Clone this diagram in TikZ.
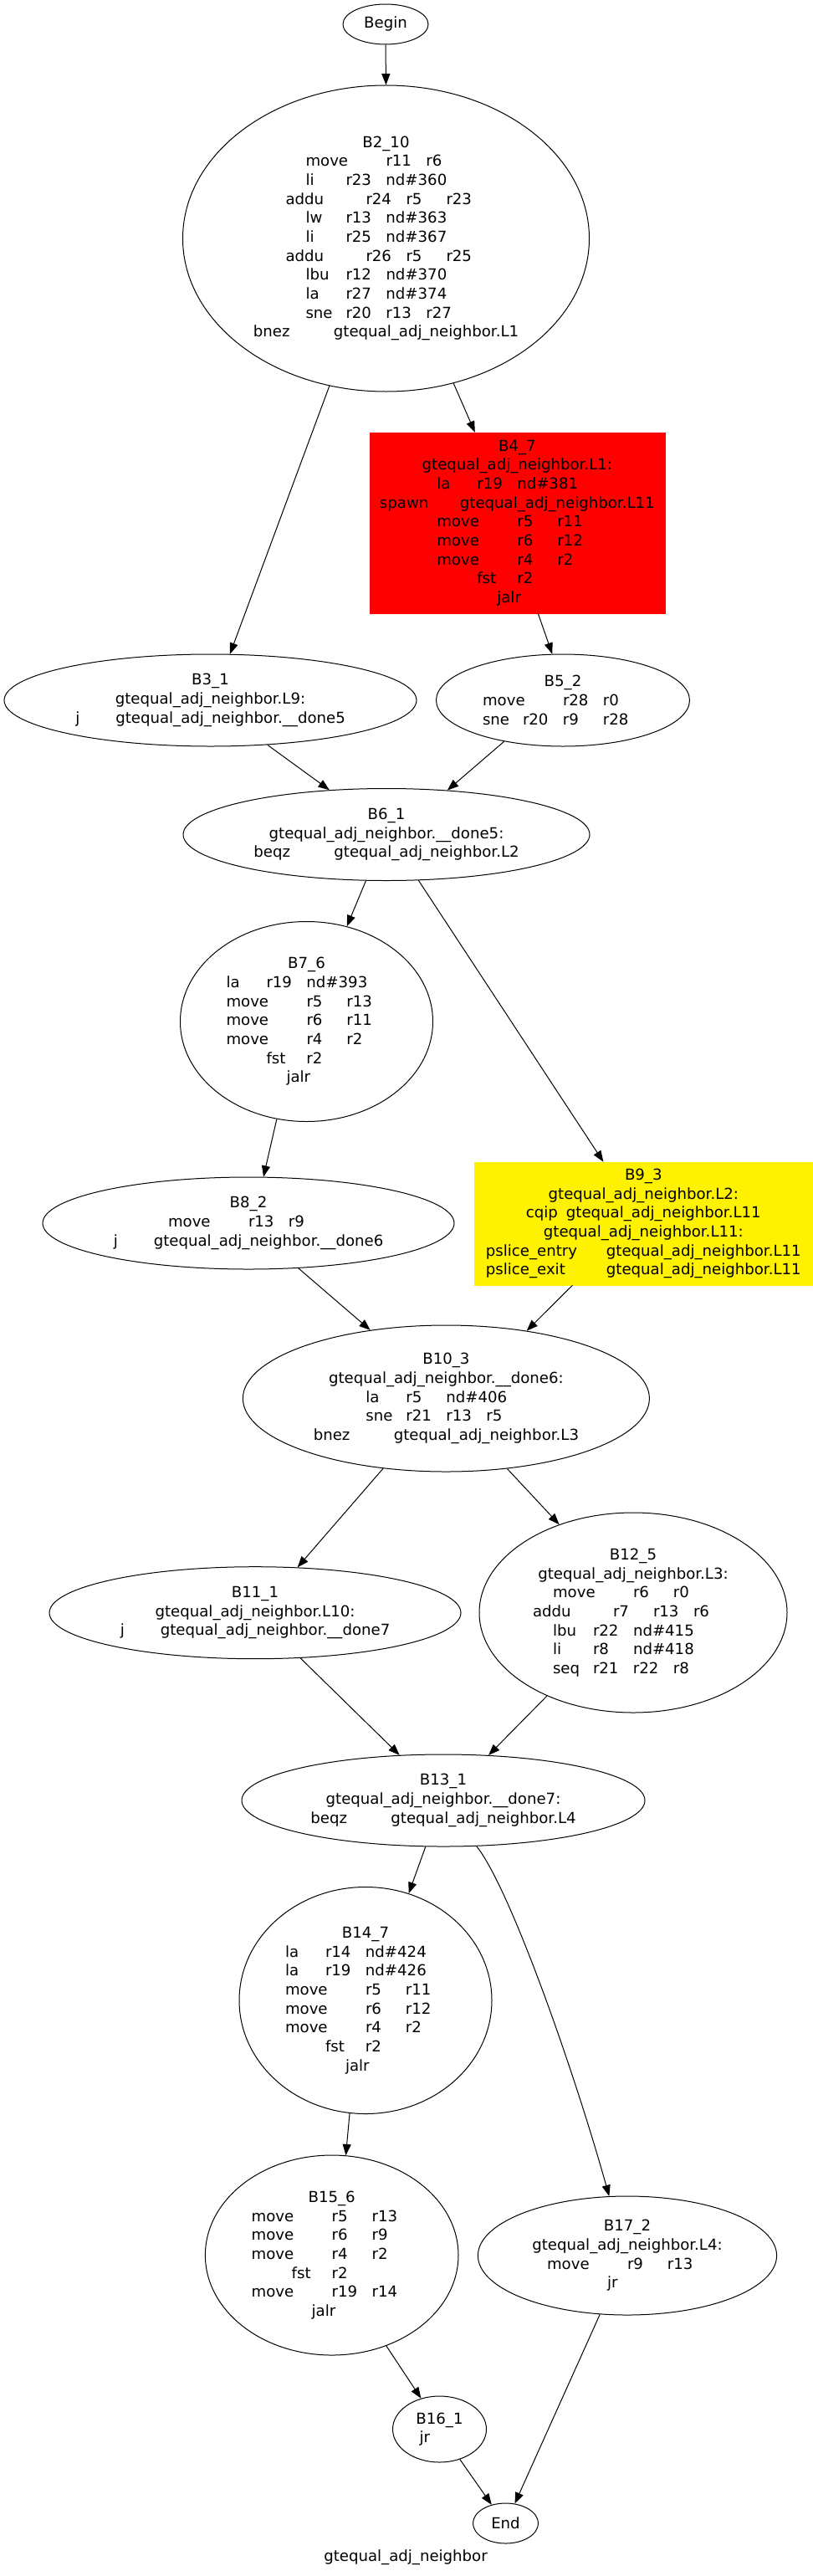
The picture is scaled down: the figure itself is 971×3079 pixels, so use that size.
\documentclass[tikz,border=0pt]{standalone}
\usepackage{fontspec}
\setmainfont{DejaVu Sans}
\usetikzlibrary{shapes.geometric,arrows.meta}
\newlength\tabw
\setlength\tabw{36pt}
\newcommand\tb[2][1]{\makebox[#1\tabw][l]{#2}}
\tikzset{
  blk/.style 2 args={ellipse,draw,line width=0.75pt,inner sep=0pt,align=center,
    minimum width=#1*1.5pt,minimum height=#2*1.5pt},
  hot/.style n args={3}{rectangle,draw=#3,fill=#3,inner sep=0pt,align=center,
    minimum width=#1*0.75pt,minimum height=#2*0.75pt},
  flow/.style={-{Triangle[length=10pt,width=7.5pt]},line width=0.75pt}
}
\begin{document}
\begin{tikzpicture}[x=0.75pt,y=-0.75pt,every node/.style={font=\fontsize{13.6}{17}\selectfont}]
  \useasboundingbox (0,0) rectangle (971,3079);
  % blocks
  \node[blk={51}{24}] (Begin) at (461,29) {Begin};
  \node[blk={243}{183}] (B2_10) at (461.5,285) {B2\_10\\
    \tb[2]{move}\tb{r11}\tb{r6}\\
    \tb{li}\tb{r23}\tb[2]{nd\#360}\\
    \tb[2]{addu}\tb{r24}\tb{r5}\tb{r23}\\
    \tb{lw}\tb{r13}\tb[2]{nd\#363}\\
    \tb{li}\tb{r25}\tb[2]{nd\#367}\\
    \tb[2]{addu}\tb{r26}\tb{r5}\tb{r25}\\
    \tb{lbu}\tb{r12}\tb[2]{nd\#370}\\
    \tb{la}\tb{r27}\tb[2]{nd\#374}\\
    \tb{sne}\tb{r20}\tb{r13}\tb{r27}\\
    \tb[2]{bnez}gtequal\_adj\_neighbor.L1};
  \node[hot={353}{216}{red}] (B4_7) at (618.3,625) {B4\_7\\
    gtequal\_adj\_neighbor.L1:\\
    \tb{la}\tb{r19}\tb[2]{nd\#381}\\
    \tb[2]{spawn}gtequal\_adj\_neighbor.L11\\
    \tb[2]{move}\tb{r5}\tb{r11}\\
    \tb[2]{move}\tb{r6}\tb{r12}\\
    \tb[2]{move}\tb{r4}\tb{r2}\\
    \tb{fst}\tb{r2}\\
    \tb{jalr}};
  \node[blk={246.5}{55}] (B3_1) at (251.5,837) {B3\_1\\
    gtequal\_adj\_neighbor.L9:\\
    \tb{j}gtequal\_adj\_neighbor.\_\_done5};
  \node[blk={151.5}{55}] (B5_2) at (673,837) {B5\_2\\
    \tb[2]{move}\tb{r28}\tb{r0}\\
    \tb{sne}\tb{r20}\tb{r9}\tb{r28}};
  \node[blk={243}{55}] (B6_1) at (462,997.5) {B6\_1\\
    gtequal\_adj\_neighbor.\_\_done5:\\
    \tb[2]{beqz}gtequal\_adj\_neighbor.L2};
  \node[blk={151}{119.5}] (B7_6) at (366.5,1221) {B7\_6\\
    \tb{la}\tb{r19}\tb[2]{nd\#393}\\
    \tb[2]{move}\tb{r5}\tb{r13}\\
    \tb[2]{move}\tb{r6}\tb{r11}\\
    \tb[2]{move}\tb{r4}\tb{r2}\\
    \tb{fst}\tb{r2}\\
    \tb{jalr}};
  \node[blk={246}{55}] (B8_2) at (297,1462) {B8\_2\\
    \tb[2]{move}\tb{r13}\tb{r9}\\
    \tb{j}gtequal\_adj\_neighbor.\_\_done6};
  \node[hot={403.4}{147}{yellow}] (B9_3) at (769.3,1462.5) {B9\_3\\
    gtequal\_adj\_neighbor.L2:\\
    \tb{cqip}gtequal\_adj\_neighbor.L11\\
    gtequal\_adj\_neighbor.L11:\\
    \tb[3]{pslice\_entry}gtequal\_adj\_neighbor.L11\\
    \tb[3]{pslice\_exit}gtequal\_adj\_neighbor.L11};
  \node[blk={243}{87.5}] (B10_3) at (533.4,1671.5) {B10\_3\\
    gtequal\_adj\_neighbor.\_\_done6:\\
    \tb{la}\tb{r5}\tb[2]{nd\#406}\\
    \tb{sne}\tb{r21}\tb{r13}\tb{r5}\\
    \tb[2]{bnez}gtequal\_adj\_neighbor.L3};
  \node[blk={246}{55}] (B11_1) at (305,1927.7) {B11\_1\\
    gtequal\_adj\_neighbor.L10:\\
    \tb{j}gtequal\_adj\_neighbor.\_\_done7};
  \node[blk={184}{119.5}] (B12_5) at (757,1927.5) {B12\_5\\
    gtequal\_adj\_neighbor.L3:\\
    \tb[2]{move}\tb{r6}\tb{r0}\\
    \tb[2]{addu}\tb{r7}\tb{r13}\tb{r6}\\
    \tb{lbu}\tb{r22}\tb[2]{nd\#415}\\
    \tb{li}\tb{r8}\tb[2]{nd\#418}\\
    \tb{seq}\tb{r21}\tb{r22}\tb{r8}};
  \node[blk={241}{55}] (B13_1) at (530,2152) {B13\_1\\
    gtequal\_adj\_neighbor.\_\_done7:\\
    \tb[2]{beqz}gtequal\_adj\_neighbor.L4};
  \node[blk={151}{135.5}] (B14_7) at (437,2391) {B14\_7\\
    \tb{la}\tb{r14}\tb[2]{nd\#424}\\
    \tb{la}\tb{r19}\tb[2]{nd\#426}\\
    \tb[2]{move}\tb{r5}\tb{r11}\\
    \tb[2]{move}\tb{r6}\tb{r12}\\
    \tb[2]{move}\tb{r4}\tb{r2}\\
    \tb{fst}\tb{r2}\\
    \tb{jalr}};
  \node[blk={151.3}{119.5}] (B15_6) at (396.7,2695.5) {B15\_6\\
    \tb[2]{move}\tb{r5}\tb{r13}\\
    \tb[2]{move}\tb{r6}\tb{r9}\\
    \tb[2]{move}\tb{r4}\tb{r2}\\
    \tb{fst}\tb{r2}\\
    \tb[2]{move}\tb{r19}\tb{r14}\\
    \tb{jalr}};
  \node[blk={56}{39.5}] (B16_1) at (525.5,2903.5) {B16\_1\\
    \tb{jr}};
  \node[blk={178.6}{71}] (B17_2) at (750,2696) {B17\_2\\
    gtequal\_adj\_neighbor.L4:\\
    \tb[2]{move}\tb{r9}\tb{r13}\\
    \tb{jr}};
  \node[blk={39}{24}] (End) at (604.5,3016) {End};
  \node (title) at (485,3057) {gtequal\_adj\_neighbor};
  % edges
  \draw[flow] (Begin.south) -- (B2_10.north);
  \draw[flow] (B2_10.249.1) -- (B3_1.67.8);
  \draw[flow] (B2_10.295.5) -- (B4_7.115);
  \draw[flow] (B4_7.283.9) -- (B5_2.103.3);
  \draw[flow] (B3_1.322.7) -- (B6_1.142.1);
  \draw[flow] (B5_2.215.2) -- (B6_1.36.7);
  \draw[flow] (B6_1.246.9) -- (B7_6.67);
  \draw[flow] (B6_1.305.6) -- (B9_3.123.8);
  \draw[flow] (B7_6.253.4) -- (B8_2.72.8);
  \draw[flow] (B8_2.318.9) -- (B10_3.138.9);
  \draw[flow] (B9_3.221.4) -- (B10_3.40.2);
  \draw[flow] (B10_3.228.1) -- (B11_1.47.2);
  \draw[flow] (B10_3.311.7) -- (B12_5.130.7);
  \draw[flow] (B11_1.315.5) -- (B13_1.134.5);
  \draw[flow] (B12_5.224.6) -- (B13_1.45);
  \draw[flow] (B13_1.249.1) -- (B14_7.68.7);
  \draw[flow] (B13_1.306.5) .. controls +(40,50) and +(-42,-150) .. (B17_2.107.2);
  \draw[flow] (B14_7.262) -- (B15_6.82.8);
  \draw[flow] (B15_6.301.5) -- (B16_1.121.3);
  \draw[flow] (B16_1.304.6) -- (End.127.3);
  \draw[flow] (B17_2.245.4) -- (End.65.5);
\end{tikzpicture}
\end{document}
